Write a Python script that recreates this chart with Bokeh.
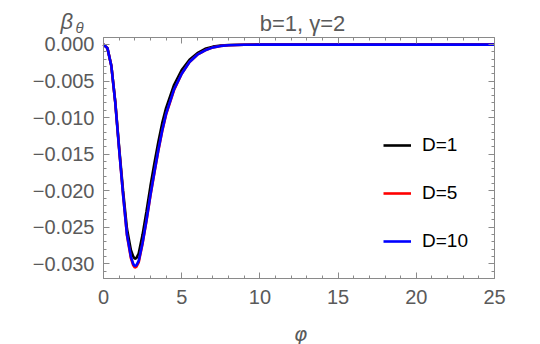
from bokeh.plotting import figure
from bokeh.models import (Range1d, FixedTicker, LinearAxis, Legend, LegendItem, Label)
from bokeh.embed import file_html
from bokeh.resources import INLINE

# ---- data ----
phi = [0, 0.25, 0.5, 0.75, 1.0, 1.25, 1.5, 1.75, 1.9, 2.0, 2.1, 2.25, 2.5, 2.75,
       3.0, 3.25, 3.5, 3.75, 4.0, 4.5, 5.0, 5.5, 6.0, 6.5, 7.0, 7.5, 8.0, 9.0,
       10.0, 12.0, 15.0, 20.0, 25.0]
beta_D1 = [0, -0.0005, -0.0029, -0.0078, -0.0141, -0.0200, -0.0252, -0.0281, -0.0290,
           -0.0293, -0.0292, -0.0286, -0.0260, -0.0228, -0.0194, -0.0163, -0.0134,
           -0.0108, -0.0087, -0.0056, -0.0035, -0.0021, -0.0012, -0.0006, -0.0003,
           -0.00015, -0.00008, -0.00004, -0.00002, -0.00001, -0.00001, -0.00001, -0.00001]
beta_D5 = [0, -0.0005, -0.0029, -0.0079, -0.0143, -0.0205, -0.0261, -0.0292, -0.0302,
           -0.0305, -0.0304, -0.0298, -0.0272, -0.0241, -0.0207, -0.0176, -0.0146,
           -0.0119, -0.0096, -0.0063, -0.0040, -0.0024, -0.0014, -0.0008, -0.0004,
           -0.0002, -0.0001, -0.00005, -0.00003, -0.00002, -0.00002, -0.00002, -0.00002]
beta_D10 = [0, -0.0005, -0.0029, -0.0079, -0.0143, -0.0205, -0.0260, -0.0290, -0.0300,
            -0.0303, -0.0302, -0.0296, -0.0271, -0.0240, -0.0206, -0.0175, -0.0145,
            -0.0118, -0.0095, -0.0062, -0.0040, -0.0024, -0.0014, -0.0008, -0.0004,
            -0.0002, -0.0001, -0.00005, -0.00003, -0.00002, -0.00002, -0.00002, -0.00002]
series_labels = ["D=1", "D=5", "D=10"]
series_colors = ["black", "red", "blue"]

x_ticks = [0, 5, 10, 15, 20, 25]
x_tick_labels = ["0", "5", "10", "15", "20", "25"]
y_ticks = [-0.030, -0.025, -0.020, -0.015, -0.010, -0.005, 0.0]
y_tick_labels = ["\u22120.030", "\u22120.025", "\u22120.020", "\u22120.015",
                 "\u22120.010", "\u22120.005", "0.000"]
title_text = "b=1, \u03b3=2"
x_label = "\u03c6"
y_label_main = "\u03b2"
y_label_sub = "\u03b8"

# ---- layout (pixels) ----
W, H = 540, 344
F_LEFT, F_RIGHT, F_TOP, F_BOTTOM = 103, 494, 37, 278
X0, X1 = 0.0, 25.0
Y0, Y1 = -0.0320, 0.00095

GRAY = "#5a5a5a"
FRAME = "#8a8a8a"
FONT = "Liberation Sans"

# the plotting area covers the whole canvas; the visible frame is drawn
# by four axes pinned at the data bounds
xs = (F_RIGHT - F_LEFT) / (X1 - X0)
ys = (F_BOTTOM - F_TOP) / (Y1 - Y0)
x_range = Range1d(X0 - F_LEFT / xs, X1 + (W - F_RIGHT) / xs)
y_range = Range1d(Y0 - (H - F_BOTTOM) / ys, Y1 + F_TOP / ys)

p = figure(width=W, height=H, output_backend="svg", toolbar_location=None,
           x_range=x_range, y_range=y_range,
           min_border=0, min_border_left=0, min_border_right=0,
           min_border_top=0, min_border_bottom=0,
           x_axis_location=None, y_axis_location=None)
p.xgrid.visible = False
p.ygrid.visible = False
p.outline_line_color = None
p.background_fill_color = "white"
p.border_fill_color = "white"

x_minor = [float(i) for i in range(0, 26)]
y_minor = [-i / 1000.0 for i in range(0, 33)]

def make_axis(ticks, minor, labels, show, loc, bounds):
    ax = LinearAxis(fixed_location=loc, bounds=bounds)
    ax.ticker = FixedTicker(ticks=ticks, minor_ticks=minor)
    ax.axis_line_color = FRAME
    ax.major_tick_line_color = FRAME
    ax.minor_tick_line_color = FRAME
    ax.major_tick_in = 6
    ax.major_tick_out = 0
    ax.minor_tick_in = 3
    ax.minor_tick_out = 0
    if show:
        ax.major_label_overrides = {t: l for t, l in zip(ticks, labels)}
        ax.major_label_text_font = FONT
        ax.major_label_text_font_size = "20px"
        ax.major_label_text_color = GRAY
    else:
        ax.major_label_overrides = {t: "" for t in ticks}
        ax.major_label_text_font_size = "1px"
    return ax

xb = make_axis(x_ticks, x_minor, x_tick_labels, True, Y0, (X0, X1))
xb.major_label_standoff = 11
p.add_layout(xb, "below")

yl = make_axis(y_ticks, y_minor, y_tick_labels, True, X0, (Y0, Y1))
yl.major_label_standoff = 9
p.add_layout(yl, "left")

xt = make_axis(x_ticks, x_minor, x_tick_labels, False, Y1, (X0, X1))
xt.major_label_standoff = 0
p.add_layout(xt, "above")

yr = make_axis(y_ticks, y_minor, y_tick_labels, False, X1, (Y0, Y1))
yr.major_label_standoff = 0
p.add_layout(yr, "right")

series = [beta_D1, beta_D5, beta_D10]
items = []
for yv, lab, col in zip(series, series_labels, series_colors):
    r = p.line(phi, yv, line_color=col, line_width=2.6)
    items.append(LegendItem(label=lab, renderers=[r]))

legend = Legend(items=items, location=(383, H - 252), orientation="vertical",
                glyph_width=28, glyph_height=20, label_height=20, spacing=26,
                label_standoff=11, padding=0, margin=0,
                label_text_font=FONT, label_text_font_size="19px",
                label_text_color="black", border_line_color=None,
                background_fill_alpha=0)
p.add_layout(legend, "center")

def screen_label(text, x, baseline_y, size, align="left", italic=False, font=FONT):
    return Label(x=x, y=H - baseline_y, x_units="screen", y_units="screen", text=text,
                 text_align=align, text_baseline="alphabetic", text_font=font,
                 text_font_style="italic" if italic else "normal",
                 text_font_size=size, text_color=GRAY)

p.add_layout(screen_label(title_text, 302, 23, "22px", align="center"))
p.add_layout(screen_label(y_label_main, 60, 21, "22px", italic=True))
p.add_layout(screen_label(y_label_sub, 75, 27, "15px", italic=True))
p.add_layout(screen_label(x_label, 300, 333, "20px", align="center", italic=True,
                          font="DejaVu Sans"))

open("out.html", "w").write(file_html(p, INLINE))
